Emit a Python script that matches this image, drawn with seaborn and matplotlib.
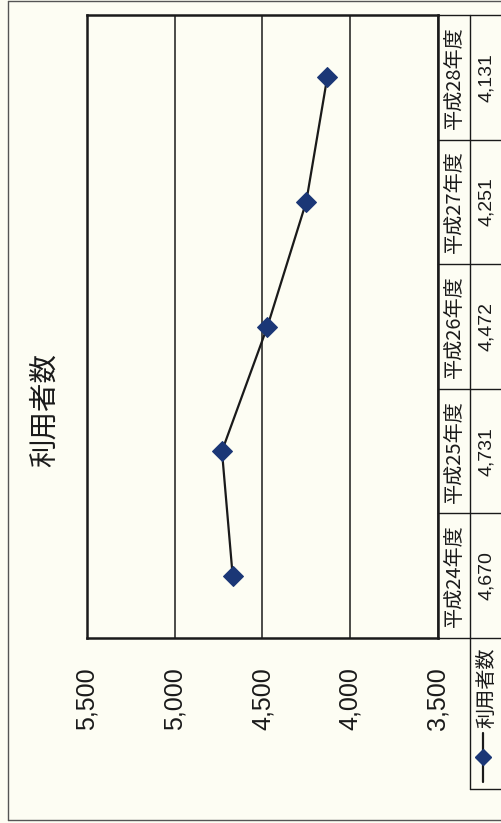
import matplotlib
matplotlib.use("Agg")
import matplotlib.pyplot as plt
from matplotlib.lines import Line2D
from matplotlib.transforms import blended_transform_factory
import seaborn as sns
import pandas as pd

# 利用者数 by fiscal year
years = ["平成24年度", "平成25年度", "平成26年度", "平成27年度", "平成28年度"]
counts = [4670, 4731, 4472, 4251, 4131]
value_ticks = [5500, 5000, 4500, 4000, 3500]
series_name = "利用者数"
title = "利用者数"

sns.set_theme(style="white")
plt.rcParams["font.family"] = ["Noto Sans CJK JP", "DejaVu Sans"]

BG = "#fdfdf3"
NAVY = "#1b3776"
INK = "#1a1a1a"
NUM_FONT = ["Liberation Sans", "DejaVu Sans"]

W, H = 502, 823
fig = plt.figure(figsize=(W / 100, H / 100), dpi=100)
fig.patch.set_facecolor(BG)


def fx(px):
    return px / W


def fy(py):
    return 1 - py / H


# plot area (chart is laid out turned a quarter turn: values run right-to-left)
L, R, T, B = 87, 438, 15, 638
ax = fig.add_axes([fx(L), fy(B), fx(R) - fx(L), fy(T) - fy(B)])
ax.set_facecolor(BG)

df = pd.DataFrame({"year": years, "count": counts, "pos": range(len(years))})
sns.lineplot(data=df, x="count", y="pos", sort=False, estimator=None,
             orient="y", color=INK, lw=1.6, marker="D", markersize=10.5,
             markerfacecolor=NAVY, markeredgecolor=NAVY, ax=ax, legend=False)

ax.set_xlim(value_ticks[0], value_ticks[-1])
ax.set_ylim(-0.5, len(years) - 0.5)
ax.set_xticks(value_ticks)
ax.set_xticklabels([f"{v:,}" for v in value_ticks], rotation=90,
                   fontsize=18, family=NUM_FONT, color=INK)
ax.set_yticks([])
ax.tick_params(axis="x", length=0, pad=21)
ax.set_xlabel("")
ax.set_ylabel("")
ax.grid(axis="x", color=INK, lw=1.1)
ax.grid(axis="y", visible=False)
for s in ax.spines.values():
    s.set_color(INK)
    s.set_linewidth(1.8)

# data table beside the plot
blend = blended_transform_factory(ax.transAxes, ax.transData)
ax_w = R - L


def axx(px):
    return (px - L) / ax_w


for i, (yr, c) in enumerate(zip(years, counts)):
    ax.text(axx(454), i, yr, rotation=90, ha="center", va="center",
            fontsize=14.5, color=INK, transform=blend, clip_on=False)
    ax.text(axx(487), i, f"{c:,}", rotation=90, ha="center", va="center",
            fontsize=14, family=NUM_FONT, color=INK, transform=blend,
            clip_on=False)

tbl_lw = 1.0
for b in [i + 0.5 for i in range(len(years) - 1)]:
    ax.add_line(Line2D([1.0, axx(503)], [b, b], transform=blend,
                       color=INK, lw=tbl_lw, clip_on=False))

fig_lines = [
    ([R, 503], [T, T]),          # table top
    ([470, 470], [T, 789]),      # column divider / legend box left
    ([R, 503], [B, B]),          # table bottom
    ([470, 503], [789, 789]),    # legend box bottom
]
for xs, ys in fig_lines:
    fig.add_artist(Line2D([fx(x) for x in xs], [fy(y) for y in ys],
                          transform=fig.transFigure, color=INK, lw=tbl_lw))

# legend key in the table's row header
fig.add_artist(Line2D([fx(483), fx(483)], [fy(733), fy(782)],
                      transform=fig.transFigure, color=INK, lw=1.6))
fig.add_artist(Line2D([fx(483)], [fy(757)], transform=fig.transFigure,
                      marker="D", markersize=8, color=NAVY, lw=0))
fig.text(fx(487), fy(688), series_name, rotation=90, ha="center",
         va="center", fontsize=14.5, color=INK)

# chart title
fig.text(fx(45), fy(410), title, rotation=90, ha="center", va="center",
         fontsize=20.5, color=INK)

# outer frame
frame = "#555555"
for xs, ys in [([8, 8], [1, 820]), ([8, 503], [1, 1]), ([8, 503], [820, 820])]:
    fig.add_artist(Line2D([fx(x) for x in xs], [fy(y) for y in ys],
                          transform=fig.transFigure, color=frame, lw=1.0))

fig.savefig("out.png", dpi=100, facecolor=BG)
